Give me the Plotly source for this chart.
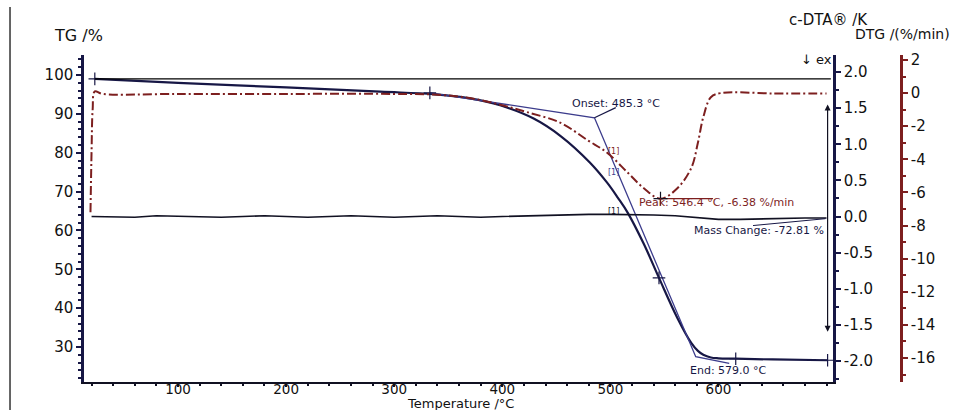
import plotly.graph_objects as go

# ---------------- data ----------------
tg_temp = [23, 100, 200, 287, 336, 370, 398, 429, 454, 481, 497, 507, 516, 531, 545, 562, 575, 581, 586, 593, 600, 616, 650, 701]
tg_mass = [99.0, 98.0, 96.8, 95.7, 95.1, 94.0, 92.2, 88.8, 84.3, 77.5, 72.3, 68.4, 64.6, 56.5, 47.8, 37.5, 31.0, 29.0, 28.0, 27.3, 27.1, 27.0, 26.8, 26.6]

dta_temp = [20, 40, 60, 80, 100, 120, 140, 160, 180, 200, 220, 240, 260, 280, 300, 320, 340, 360, 380, 400,
            420, 440, 460, 480, 500, 520, 540, 560, 580, 600, 620, 640, 660, 680, 700]
dta_val = [0.0, 0.0, -0.01, 0.01, 0.0, -0.01, -0.01, 0.0, 0.01, 0.0, -0.01, 0.0, 0.01, 0.0, -0.01, 0.0, 0.01, 0.0, -0.01, 0.0,
           0.01, 0.02, 0.02, 0.03, 0.03, 0.03, 0.02, 0.01, -0.02, -0.04, -0.04, -0.03, -0.03, -0.02, -0.02]

dtg_temp = [19, 20, 21, 23, 30, 100, 200, 300, 340, 370, 398, 423, 454, 479, 497, 516, 531, 546.4, 562, 575, 581, 586, 593, 602, 650, 700]
dtg_val = [-7.2, -3.5, -1.0, 0.1, -0.05, -0.05, -0.05, -0.05, -0.1, -0.3, -0.7, -1.15, -1.8, -2.85, -3.6, -4.8, -5.75, -6.38,
           -5.75, -4.5, -3.0, -1.45, -0.25, 0.0, -0.02, -0.03]

# evaluation results
onset_temp, onset_mass = 485.3, 89.0
end_temp, end_mass = 579.0, 27.5
peak_temp, peak_dtg = 546.4, -6.38
mass_change = -72.81

x_ticks = [100, 200, 300, 400, 500, 600]
tg_ticks = [30, 40, 50, 60, 70, 80, 90, 100]
dta_ticks = [-2.0, -1.5, -1.0, -0.5, 0.0, 0.5, 1.0, 1.5, 2.0]
dta_ticktext = ["-2.0", "-1.5", "-1.0", "-0.5", "0.0", "0.5", "1.0", "1.5", "2.0"]
dtg_ticks = [-16, -14, -12, -10, -8, -6, -4, -2, 0, 2]
dtg_ticktext = ["-16", "-14", "-12", "-10", "-8", "-6", "-4", "-2", "0", "2"]

# ---------------- styling ----------------
FONT = "DejaVu Sans"
NAVY = "#171745"
DARK = "#111122"
RED = "#7d1f1f"
BLUE = "#3c3c8c"

fig = go.Figure()

# TG curve
fig.add_trace(go.Scatter(x=tg_temp, y=tg_mass, mode="lines", line=dict(color=NAVY, width=2.2),
                         line_shape="spline", yaxis="y", showlegend=False, hoverinfo="skip"))
# DTA curve
fig.add_trace(go.Scatter(x=dta_temp, y=dta_val, mode="lines", line=dict(color=DARK, width=1.6),
                         yaxis="y2", showlegend=False, hoverinfo="skip"))
# DTG curve
fig.add_trace(go.Scatter(x=dtg_temp, y=dtg_val, mode="lines", line=dict(color=RED, width=2, dash="9px,3px,2px,3px"),
                         line_shape="spline", yaxis="y3", showlegend=False, hoverinfo="skip"))

# onset / end tangents
fig.add_trace(go.Scatter(x=[333, onset_temp, end_temp, 610], y=[95.4, onset_mass, end_mass, 25.8], mode="lines",
                         line=dict(color=BLUE, width=1.3), yaxis="y", showlegend=False, hoverinfo="skip"))
# onset leader
fig.add_trace(go.Scatter(x=[onset_temp, 505], y=[onset_mass, 91.6], mode="lines",
                         line=dict(color=NAVY, width=1.2), yaxis="y", showlegend=False, hoverinfo="skip"))
# peak leader
fig.add_trace(go.Scatter(x=[peak_temp, 595], y=[peak_dtg, peak_dtg], mode="lines",
                         line=dict(color=RED, width=1.2), yaxis="y3", showlegend=False, hoverinfo="skip"))
# mass-change leader
fig.add_trace(go.Scatter(x=[632, 699], y=[-0.125, -0.03], mode="lines",
                         line=dict(color=NAVY, width=1), yaxis="y2", showlegend=False, hoverinfo="skip"))
# markers on TG
fig.add_trace(go.Scatter(x=[23, 333, 545, 616, 701], y=[99.0, 95.4, 47.8, 27.0, 26.6], mode="markers",
                         marker=dict(symbol="cross-thin", size=9, line=dict(color=NAVY, width=1.2)),
                         yaxis="y", showlegend=False, hoverinfo="skip"))
# marker on DTG peak
fig.add_trace(go.Scatter(x=[peak_temp], y=[peak_dtg], mode="markers",
                         marker=dict(symbol="cross-thin", size=10, line=dict(color=DARK, width=1.2)),
                         yaxis="y3", showlegend=False, hoverinfo="skip"))

shapes = [
    # reference baseline
    dict(type="line", xref="x", yref="y", x0=23, x1=704, y0=99.0, y1=99.0, line=dict(color="#000000", width=1.2)),
    # frame line at far left of picture
    dict(type="line", xref="paper", yref="paper", x0=-0.0885, x1=-0.0885, y0=1.147, y1=-0.09,
         line=dict(color="#333333", width=1.5)),
]

def pa(px):
    return (px - 84) / 836.0

def pb(py):
    return 1 - (py - 55) / 327.0

ann = []
small = dict(family=FONT, size=11)
ann.append(dict(text="Onset: 485.3 °C", x=pa(616), y=pb(103), xref="paper", yref="paper", showarrow=False,
                font=dict(small, color=NAVY), xanchor="center", yanchor="middle"))
ann.append(dict(text="Peak: 546.4 °C, -6.38 %/min", x=pa(716), y=pb(202), xref="paper", yref="paper", showarrow=False,
                font=dict(small, color=RED), xanchor="center", yanchor="middle"))
ann.append(dict(text="Mass Change: -72.81 %", x=pa(826), y=pb(231), xref="paper", yref="paper", showarrow=False,
                font=dict(small, color=NAVY), xanchor="right", yanchor="middle"))
ann.append(dict(text="End: 579.0 °C", x=pa(728), y=pb(370), xref="paper", yref="paper", showarrow=False,
                font=dict(small, color=NAVY), xanchor="center", yanchor="middle"))
for txt, py, col in [("[1]", 152, RED), ("[1]", 172, BLUE), ("[1]", 211, DARK)]:
    ann.append(dict(text=txt, x=pa(613), y=pb(py), xref="paper", yref="paper", showarrow=False,
                    font=dict(family=FONT, size=8, color=col), xanchor="center", yanchor="middle"))
# mass change double arrow
ann.append(dict(x=701, y=33.9, ax=701, ay=92.8, xref="x", yref="y", axref="x", ayref="y", text="",
                showarrow=True, arrowhead=2, arrowside="end+start", arrowsize=1, arrowwidth=1.2, arrowcolor=DARK))
# axis titles
big = dict(family=FONT, size=15, color="#111111")
ann.append(dict(text="TG /%", x=pa(78), y=pb(35), xref="paper", yref="paper", showarrow=False,
                font=dict(family=FONT, size=16, color="#111111"), xanchor="center", yanchor="middle"))
ann.append(dict(text="c-DTA® /K", x=pa(828), y=pb(20), xref="paper", yref="paper", showarrow=False, font=big,
                xanchor="center", yanchor="middle"))
ann.append(dict(text="DTG /(%/min)", x=pa(902), y=pb(34), xref="paper", yref="paper", showarrow=False,
                font=dict(family=FONT, size=14, color="#111111"), xanchor="center", yanchor="middle"))
ann.append(dict(text="↓ ex", x=pa(834), y=pb(60), xref="paper", yref="paper", showarrow=False,
                font=dict(family=FONT, size=13, color="#111111"), xanchor="right", yanchor="middle"))
ann.append(dict(text="Temperature /°C", x=pa(460), y=pb(403), xref="paper", yref="paper", showarrow=False,
                font=dict(family=FONT, size=13, color="#111111"), xanchor="center", yanchor="middle"))

tickfont = dict(family=FONT, size=15, color="#111111")

fig.update_layout(
    width=960, height=410,
    margin=dict(l=84, r=40, t=55, b=28),
    paper_bgcolor="white", plot_bgcolor="white",
    showlegend=False,
    shapes=shapes,
    annotations=ann,
    xaxis=dict(domain=[0, 749 / 836], range=[13, 706], tickvals=x_ticks, showgrid=False, zeroline=False,
               automargin=False, ticklabelstandoff=-9,
               showline=True, linecolor=DARK, linewidth=2, ticks="outside", ticklen=3, tickwidth=1.5,
               tickcolor=DARK, tickfont=dict(family=FONT, size=13.5, color="#111111"),
               minor=dict(dtick=20, ticks="outside", ticklen=2, tickcolor=DARK, tick0=0)),
    yaxis=dict(range=[21.0, 105.15], tickvals=tg_ticks, showgrid=False, zeroline=False, automargin=False,
               showline=True, linecolor=NAVY, linewidth=2.5, ticks="outside", ticklen=5, tickwidth=1.5,
               tickcolor=NAVY, tickfont=tickfont,
               minor=dict(dtick=2, ticks="outside", ticklen=3, tickcolor=NAVY, tick0=0)),
    yaxis2=dict(overlaying="y", side="right", anchor="x", range=[-2.29, 2.235], tickvals=dta_ticks,
                ticktext=dta_ticktext, showgrid=False, zeroline=False, showline=True, linecolor=NAVY,
                automargin=False,
                linewidth=2.5, ticks="outside", ticklen=5, tickwidth=1.5, tickcolor=NAVY, tickfont=tickfont,
                minor=dict(dtick=0.25, ticks="outside", ticklen=3, tickcolor=NAVY, tick0=0)),
    yaxis3=dict(overlaying="y", side="right", anchor="free", position=817 / 836, range=[-17.45, 2.30],
                tickvals=dtg_ticks, ticktext=dtg_ticktext, showgrid=False, zeroline=False, showline=True,
                automargin=False,
                linecolor=RED, linewidth=2.5, ticks="outside", ticklen=5, tickwidth=1.5, tickcolor=RED,
                tickfont=tickfont,
                minor=dict(dtick=1, ticks="outside", ticklen=3, tickcolor=RED, tick0=0)),
)

fig.write_html("out.html", config={"displayModeBar": False},
               post_script="document.body.style.margin='0';document.body.style.overflow='hidden';")
